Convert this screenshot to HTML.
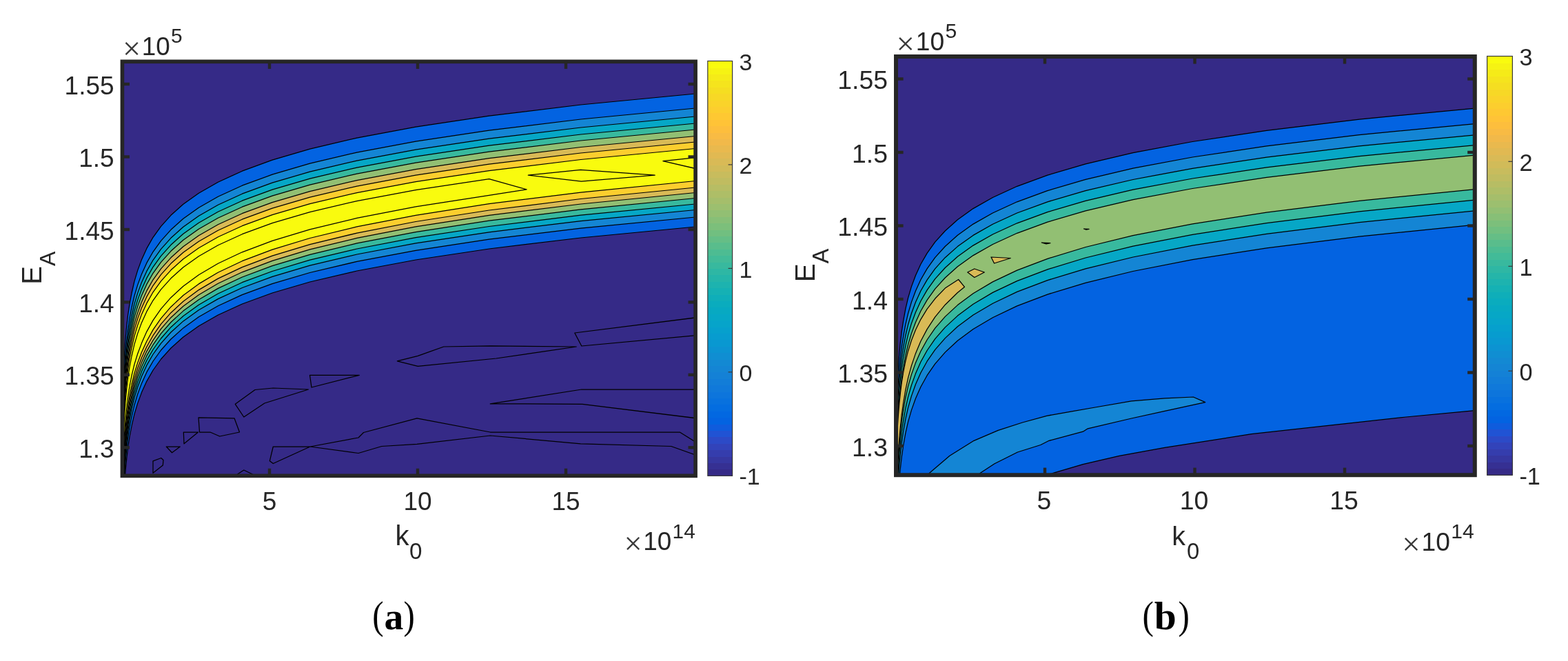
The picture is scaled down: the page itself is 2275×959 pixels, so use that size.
<!DOCTYPE html>
<html lang="en"><head><meta charset="utf-8"><title>Contour plots</title>
<style>html,body{margin:0;padding:0;background:#fff;overflow:hidden}svg{display:block}</style></head>
<body><svg width="2275" height="959" viewBox="0 0 2275 959">
<rect width="2275" height="959" fill="#fff"/>
<clipPath id="clipA"><rect x="177.4" y="89.3" width="831.7" height="601"/></clipPath>
<rect x="177.4" y="89.3" width="831.7" height="601" fill="#352a87"/>
<g clip-path="url(#clipA)" stroke="#000" stroke-width="1.25" stroke-linejoin="round">
<polygon points="1019.1,136 1008.9,136 842.7,152 709.7,168.1 603.2,184.1 517.9,200.1 449.7,216.1 395.1,232.2 351.4,248.2 316.4,264.2 288.4,280.2 265.9,296.3 248,312.3 233.6,328.3 222.1,344.3 212.9,360.4 205.6,376.4 199.7,392.4 194.9,408.4 191.2,424.5 188.1,440.5 185.7,456.5 183.8,472.5 182.2,488.6 181,504.6 180,520.6 179.2,536.7 178.6,552.7 178,568.7 177.6,584.7 177.3,600.8 177,616.8 176.8,632.8 176.7,648.8 176.5,664.9 176.4,680.9 176.3,696.9 167.4,696.9 167.4,889.1 176.3,889.1 176.4,873.1 176.5,857.1 176.7,841.1 176.8,825.1 177,809.1 177.3,793.1 177.6,777.1 178,761.1 178.6,745.1 179.2,729.1 180,713.1 181,697.1 182.2,681.1 183.8,665.1 185.7,649.1 188.1,633.1 191.2,617.1 194.9,601.1 199.7,585.1 205.6,569.1 212.9,553.1 222.1,537 233.6,521 248,505 265.9,489 288.4,473 316.4,457 351.4,441 395.1,425 449.7,409 517.9,393 603.2,377 709.7,361 842.7,345 1008.9,329 1019.1,329" fill="#0363e1"/>
<polygon points="1019.1,157 1008.9,157 842.7,173 709.7,189.1 603.2,205.1 517.9,221.1 449.7,237.1 395.1,253.2 351.4,269.2 316.4,285.2 288.4,301.2 265.9,317.3 248,333.3 233.6,349.3 222.1,365.3 212.9,381.4 205.6,397.4 199.7,413.4 194.9,429.4 191.2,445.5 188.1,461.5 185.7,477.5 183.8,493.5 182.2,509.6 181,525.6 180,541.6 179.2,557.7 178.6,573.7 178,589.7 177.6,605.7 177.3,621.8 177,637.8 176.8,653.8 176.7,669.8 176.5,685.9 176.4,701.9 176.3,717.9 167.4,717.9 167.4,874.7 176.3,874.7 176.4,858.8 176.5,842.8 176.7,826.9 176.8,811 177,795 177.3,779.1 177.6,763.1 178,747.2 178.6,731.2 179.2,715.3 180,699.4 181,683.4 182.2,667.5 183.8,651.5 185.7,635.6 188.1,619.6 191.2,603.7 194.9,587.8 199.7,571.8 205.6,555.9 212.9,539.9 222.1,524 233.6,508 248,492 265.9,475.9 288.4,459.8 316.4,443.7 351.4,427.6 395.1,411.6 449.7,395.5 517.9,379.4 603.2,363.3 709.7,347.2 842.7,331.1 1008.9,315 1019.1,315" fill="#1485d4"/>
<polygon points="1019.1,169 1008.9,169 842.7,185 709.7,201.1 603.2,217.1 517.9,233.1 449.7,249.1 395.1,265.2 351.4,281.2 316.4,297.2 288.4,313.2 265.9,329.3 248,345.3 233.6,361.3 222.1,377.3 212.9,393.4 205.6,409.4 199.7,425.4 194.9,441.4 191.2,457.5 188.1,473.5 185.7,489.5 183.8,505.5 182.2,521.6 181,537.6 180,553.6 179.2,569.7 178.6,585.7 178,601.7 177.6,617.7 177.3,633.8 177,649.8 176.8,665.8 176.7,681.8 176.5,697.9 176.4,713.9 176.3,729.9 167.4,729.9 167.4,862.5 176.3,862.5 176.4,846.6 176.5,830.8 176.7,814.9 176.8,799.1 177,783.3 177.3,767.4 177.6,751.6 178,735.8 178.6,719.9 179.2,704.1 180,688.2 181,672.4 182.2,656.6 183.8,640.7 185.7,624.9 188.1,609.1 191.2,593.2 194.9,577.4 199.7,561.5 205.6,545.7 212.9,529.9 222.1,514 233.6,498.1 248,482 265.9,465.9 288.4,449.7 316.4,433.6 351.4,417.5 395.1,401.3 449.7,385.2 517.9,369 603.2,352.9 709.7,336.8 842.7,320.6 1008.9,304.5 1019.1,304.5" fill="#06a7c6"/>
<polygon points="1019.1,179 1008.9,179 842.7,195 709.7,211.1 603.2,227.1 517.9,243.1 449.7,259.1 395.1,275.2 351.4,291.2 316.4,307.2 288.4,323.2 265.9,339.3 248,355.3 233.6,371.3 222.1,387.3 212.9,403.4 205.6,419.4 199.7,435.4 194.9,451.4 191.2,467.5 188.1,483.5 185.7,499.5 183.8,515.5 182.2,531.6 181,547.6 180,563.6 179.2,579.7 178.6,595.7 178,611.7 177.6,627.7 177.3,643.8 177,659.8 176.8,675.8 176.7,691.8 176.5,707.9 176.4,723.9 176.3,739.9 167.4,739.9 167.4,854.6 176.3,854.6 176.4,838.8 176.5,823 176.7,807.2 176.8,791.4 177,775.6 177.3,759.8 177.6,744 178,728.2 178.6,712.4 179.2,696.6 180,680.8 181,665 182.2,649.2 183.8,633.4 185.7,617.6 188.1,601.8 191.2,586 194.9,570.2 199.7,554.4 205.6,538.6 212.9,522.8 222.1,507 233.6,491 248,474.7 265.9,458.5 288.4,442.2 316.4,426 351.4,409.7 395.1,393.5 449.7,377.2 517.9,361 603.2,344.7 709.7,328.5 842.7,312.2 1008.9,296 1019.1,296" fill="#38b99e"/>
<polygon points="1019.1,188 1008.9,188 842.7,204 709.7,220.1 603.2,236.1 517.9,252.1 449.7,268.1 395.1,284.2 351.4,300.2 316.4,316.2 288.4,332.2 265.9,348.3 248,364.3 233.6,380.3 222.1,396.3 212.9,412.4 205.6,428.4 199.7,444.4 194.9,460.4 191.2,476.5 188.1,492.5 185.7,508.5 183.8,524.5 182.2,540.6 181,556.6 180,572.6 179.2,588.7 178.6,604.7 178,620.7 177.6,636.7 177.3,652.8 177,668.8 176.8,684.8 176.7,700.8 176.5,716.9 176.4,732.9 176.3,748.9 167.4,748.9 167.4,846.9 176.3,846.9 176.4,831.2 176.5,815.4 176.7,799.7 176.8,783.9 177,768.1 177.3,752.4 177.6,736.6 178,720.8 178.6,705.1 179.2,689.3 180,673.6 181,657.8 182.2,642 183.8,626.3 185.7,610.5 188.1,594.7 191.2,579 194.9,563.2 199.7,547.5 205.6,531.7 212.9,515.9 222.1,500.2 233.6,483.8 248,467.5 265.9,451.1 288.4,434.7 316.4,418.4 351.4,402 395.1,385.7 449.7,369.3 517.9,352.9 603.2,336.6 709.7,320.2 842.7,303.9 1008.9,287.5 1019.1,287.5" fill="#92bf73"/>
<polygon points="1019.1,197.5 1008.9,197.5 842.7,213.5 709.7,229.6 603.2,245.6 517.9,261.6 449.7,277.6 395.1,293.7 351.4,309.7 316.4,325.7 288.4,341.7 265.9,357.8 248,373.8 233.6,389.8 222.1,405.8 212.9,421.9 205.6,437.9 199.7,453.9 194.9,469.9 191.2,486 188.1,502 185.7,518 183.8,534 182.2,550.1 181,566.1 180,582.1 179.2,598.2 178.6,614.2 178,630.2 177.6,646.2 177.3,662.3 177,678.3 176.8,694.3 176.7,710.3 176.5,726.4 176.4,742.4 176.3,758.4 167.4,758.4 167.4,839.8 176.3,839.8 176.4,824.1 176.5,808.4 176.7,792.7 176.8,776.9 177,761.2 177.3,745.5 177.6,729.8 178,714 178.6,698.3 179.2,682.6 180,666.9 181,651.2 182.2,635.4 183.8,619.7 185.7,604 188.1,588.3 191.2,572.5 194.9,556.8 199.7,541.1 205.6,525.4 212.9,509.6 222.1,493.6 233.6,477.2 248,460.7 265.9,444.2 288.4,427.7 316.4,411.3 351.4,394.8 395.1,378.3 449.7,361.9 517.9,345.4 603.2,328.9 709.7,312.4 842.7,296 1008.9,279.5 1019.1,279.5" fill="#d9ba56"/>
<polygon points="1019.1,206 1008.9,206 842.7,222 709.7,238.1 603.2,254.1 517.9,270.1 449.7,286.1 395.1,302.2 351.4,318.2 316.4,334.2 288.4,350.2 265.9,366.3 248,382.3 233.6,398.3 222.1,414.3 212.9,430.4 205.6,446.4 199.7,462.4 194.9,478.4 191.2,494.5 188.1,510.5 185.7,526.5 183.8,542.5 182.2,558.6 181,574.6 180,590.6 179.2,606.7 178.6,622.7 178,638.7 177.6,654.7 177.3,670.8 177,686.8 176.8,702.8 176.7,718.8 176.5,734.9 176.4,750.9 176.3,766.9 167.4,766.9 167.4,831 176.3,831 176.4,815.4 176.5,799.8 176.7,784.2 176.8,768.6 177,752.9 177.3,737.3 177.6,721.7 178,706.1 178.6,690.5 179.2,674.9 180,659.2 181,643.6 182.2,628 183.8,612.4 185.7,596.8 188.1,581.1 191.2,565.5 194.9,549.9 199.7,534.3 205.6,518.7 212.9,503 222.1,486.7 233.6,470.2 248,453.7 265.9,437.2 288.4,420.6 316.4,404.1 351.4,387.6 395.1,371.1 449.7,354.6 517.9,338.1 603.2,321.5 709.7,305 842.7,288.5 1008.9,272 1019.1,272" fill="#fcce2e"/>
<polygon points="1019.1,215.5 1008.9,215.5 842.7,231.5 709.7,247.6 603.2,263.6 517.9,279.6 449.7,295.6 395.1,311.7 351.4,327.7 316.4,343.7 288.4,359.7 265.9,375.8 248,391.8 233.6,407.8 222.1,423.8 212.9,439.9 205.6,455.9 199.7,471.9 194.9,487.9 191.2,504 188.1,520 185.7,536 183.8,552 182.2,568.1 181,584.1 180,600.1 179.2,616.2 178.6,632.2 178,648.2 177.6,664.2 177.3,680.3 177,696.3 176.8,712.3 176.7,728.3 176.5,744.4 176.4,760.4 176.3,776.4 167.4,776.4 167.4,822 176.3,822 176.4,806.5 176.5,790.9 176.7,775.3 176.8,759.8 177,744.2 177.3,728.7 177.6,713.1 178,697.5 178.6,682 179.2,666.4 180,650.9 181,635.3 182.2,619.8 183.8,604.2 185.7,588.6 188.1,573.1 191.2,557.5 194.9,542 199.7,526.4 205.6,510.8 212.9,495 222.1,478.4 233.6,461.8 248,445.2 265.9,428.5 288.4,411.9 316.4,395.3 351.4,378.7 395.1,362.1 449.7,345.5 517.9,328.9 603.2,312.3 709.7,295.7 842.7,279.1 1008.9,262.5 1019.1,262.5" fill="#f9fb0e"/>
<polyline points="176.3,788.4 176.4,772.4 176.5,756.4 176.7,740.3 176.8,724.3 177,708.3 177.3,692.3 177.6,676.2 178,660.2 178.6,644.2 179.2,628.2 180,612.1 181,596.1 182.2,580.1 183.8,564 185.7,548 188.1,532 191.2,516 194.9,499.9 199.7,483.9 205.6,467.9 212.9,451.9 222.1,435.8 233.6,419.8 248,403.8 265.9,387.8 288.4,371.7 316.4,355.7 351.4,339.7 395.1,323.7 449.7,307.6 517.9,291.6 603.2,275.6 709.7,259.6 764.1,274.9 709.7,283.4 603.2,299.9 517.9,316.4 449.7,332.9 395.1,349.3 351.4,365.8 316.4,382.3 288.4,398.7 265.9,415.2 248,431.7 233.6,448.2 222.1,464.6 212.9,481.1 205.6,497.6 199.7,513.3 194.9,528.9 191.2,544.4 188.1,560 185.7,575.6 183.8,591.2 182.2,606.8 181,622.3 180,637.9 179.2,653.5 178.6,669.1 178,684.7 177.6,700.2 177.3,715.8 177,731.4 176.8,747 176.7,762.6 176.5,778.2 176.4,793.7 176.3,809.3" fill="none"/>
<polygon points="766.3,254.2 842.4,246.4 950.2,254.2 843.4,263.2" fill="none"/>
<polyline points="1012,228.3 961.9,233.7 1012,245.2" fill="none"/>
<polygon points="222,668.8 233.8,664.5 237,667.5 236.3,675 222,686.3" fill="none"/>
<polygon points="241.3,648 261.3,648 249.5,656.8" fill="none"/>
<polygon points="266.3,627 287.5,627 267,643.8" fill="none"/>
<polygon points="288,605.8 340,606.8 347.5,627 318.8,633 305,627 289.5,627" fill="none"/>
<polygon points="341.3,586.3 370,565.5 396.3,563 447.5,565 383.8,585 353.8,605" fill="none"/>
<polygon points="449.5,544.3 521.3,544.3 452,562" fill="none"/>
<polygon points="576.3,523.8 606.3,516.3 643.8,503 711.3,501.8 836.3,503 720,520 606.3,531.3" fill="none"/>
<polyline points="1012,460.5 833.8,483 843.8,502 1012,486.5" fill="none"/>
<polyline points="1012,565 843.8,565 711.3,585.8 845,586.3 1012,607" fill="none"/>
<polyline points="1012,643 986.3,627 711.3,627 605,606.8 527.5,627.5 520,635 450,648 396.3,672.5 391.3,668.8 396.3,648 450,648 520,657.5 553.8,647.5 605,644.3 711.3,632 842.5,643.8 973.8,647.5 1012,661" fill="none"/>
<polyline points="340,691 353.8,682 372.5,691" fill="none"/>
</g>
<rect x="177.4" y="89.3" width="831.7" height="601" fill="none" stroke="#262626" stroke-width="5.6"/>
<g stroke="#262626" stroke-width="4.4"><line x1="391" y1="690.3" x2="391" y2="679.7"/><line x1="391" y1="89.3" x2="391" y2="99.9"/><line x1="606" y1="690.3" x2="606" y2="679.7"/><line x1="606" y1="89.3" x2="606" y2="99.9"/><line x1="821" y1="690.3" x2="821" y2="679.7"/><line x1="821" y1="89.3" x2="821" y2="99.9"/><line x1="177.4" y1="649.3" x2="188" y2="649.3"/><line x1="1009.1" y1="649.3" x2="998.5" y2="649.3"/><line x1="177.4" y1="543.8" x2="188" y2="543.8"/><line x1="1009.1" y1="543.8" x2="998.5" y2="543.8"/><line x1="177.4" y1="438.4" x2="188" y2="438.4"/><line x1="1009.1" y1="438.4" x2="998.5" y2="438.4"/><line x1="177.4" y1="333" x2="188" y2="333"/><line x1="1009.1" y1="333" x2="998.5" y2="333"/><line x1="177.4" y1="227.5" x2="188" y2="227.5"/><line x1="1009.1" y1="227.5" x2="998.5" y2="227.5"/><line x1="177.4" y1="122" x2="188" y2="122"/><line x1="1009.1" y1="122" x2="998.5" y2="122"/></g>
<g font-family='"Liberation Sans", sans-serif' font-size="37" fill="#262626">
<text x="391" y="739.7" text-anchor="middle">5</text>
<text x="606" y="739.7" text-anchor="middle">10</text>
<text x="821" y="739.7" text-anchor="middle">15</text>
<text x="165.6" y="663.8" text-anchor="end">1.3</text>
<text x="165.6" y="558.3" text-anchor="end">1.35</text>
<text x="165.6" y="452.9" text-anchor="end">1.4</text>
<text x="165.6" y="347.5" text-anchor="end">1.45</text>
<text x="165.6" y="242" text-anchor="end">1.5</text>
<text x="165.6" y="136.5" text-anchor="end">1.55</text>
</g>
<g shape-rendering="crispEdges"><rect x="1026.8" y="680.90" width="35.8" height="10.00" fill="#352a87"/><rect x="1026.8" y="671.49" width="35.8" height="10.00" fill="#363093"/><rect x="1026.8" y="662.09" width="35.8" height="10.00" fill="#3637a0"/><rect x="1026.8" y="652.69" width="35.8" height="10.00" fill="#353dad"/><rect x="1026.8" y="643.28" width="35.8" height="10.00" fill="#3243ba"/><rect x="1026.8" y="633.88" width="35.8" height="10.00" fill="#2c4ac7"/><rect x="1026.8" y="624.48" width="35.8" height="10.00" fill="#2053d4"/><rect x="1026.8" y="615.07" width="35.8" height="10.00" fill="#0f5cdd"/><rect x="1026.8" y="605.67" width="35.8" height="10.00" fill="#0363e1"/><rect x="1026.8" y="596.27" width="35.8" height="10.00" fill="#0268e1"/><rect x="1026.8" y="586.87" width="35.8" height="10.00" fill="#046de0"/><rect x="1026.8" y="577.46" width="35.8" height="10.00" fill="#0871de"/><rect x="1026.8" y="568.06" width="35.8" height="10.00" fill="#0d75dc"/><rect x="1026.8" y="558.66" width="35.8" height="10.00" fill="#1079da"/><rect x="1026.8" y="549.25" width="35.8" height="10.00" fill="#127dd8"/><rect x="1026.8" y="539.85" width="35.8" height="10.00" fill="#1481d6"/><rect x="1026.8" y="530.45" width="35.8" height="10.00" fill="#1485d4"/><rect x="1026.8" y="521.04" width="35.8" height="10.00" fill="#1389d3"/><rect x="1026.8" y="511.64" width="35.8" height="10.00" fill="#108ed2"/><rect x="1026.8" y="502.24" width="35.8" height="10.00" fill="#0c93d2"/><rect x="1026.8" y="492.83" width="35.8" height="10.00" fill="#0998d1"/><rect x="1026.8" y="483.43" width="35.8" height="10.00" fill="#079ccf"/><rect x="1026.8" y="474.03" width="35.8" height="10.00" fill="#06a0cd"/><rect x="1026.8" y="464.62" width="35.8" height="10.00" fill="#06a4ca"/><rect x="1026.8" y="455.22" width="35.8" height="10.00" fill="#06a7c6"/><rect x="1026.8" y="445.82" width="35.8" height="10.00" fill="#07a9c2"/><rect x="1026.8" y="436.42" width="35.8" height="10.00" fill="#0aacbe"/><rect x="1026.8" y="427.01" width="35.8" height="10.00" fill="#0faeb9"/><rect x="1026.8" y="417.61" width="35.8" height="10.00" fill="#15b1b4"/><rect x="1026.8" y="408.21" width="35.8" height="10.00" fill="#1db3af"/><rect x="1026.8" y="398.80" width="35.8" height="10.00" fill="#25b5a9"/><rect x="1026.8" y="389.40" width="35.8" height="10.00" fill="#2eb7a4"/><rect x="1026.8" y="380.00" width="35.8" height="10.00" fill="#38b99e"/><rect x="1026.8" y="370.59" width="35.8" height="10.00" fill="#42bb98"/><rect x="1026.8" y="361.19" width="35.8" height="10.00" fill="#4dbc92"/><rect x="1026.8" y="351.79" width="35.8" height="10.00" fill="#59bd8c"/><rect x="1026.8" y="342.38" width="35.8" height="10.00" fill="#65be86"/><rect x="1026.8" y="332.98" width="35.8" height="10.00" fill="#71bf80"/><rect x="1026.8" y="323.58" width="35.8" height="10.00" fill="#7cbf7b"/><rect x="1026.8" y="314.17" width="35.8" height="10.00" fill="#87bf77"/><rect x="1026.8" y="304.77" width="35.8" height="10.00" fill="#92bf73"/><rect x="1026.8" y="295.37" width="35.8" height="10.00" fill="#9cbf6f"/><rect x="1026.8" y="285.97" width="35.8" height="10.00" fill="#a5be6b"/><rect x="1026.8" y="276.56" width="35.8" height="10.00" fill="#aebe67"/><rect x="1026.8" y="267.16" width="35.8" height="10.00" fill="#b7bd64"/><rect x="1026.8" y="257.76" width="35.8" height="10.00" fill="#c0bc60"/><rect x="1026.8" y="248.35" width="35.8" height="10.00" fill="#c8bc5d"/><rect x="1026.8" y="238.95" width="35.8" height="10.00" fill="#d1bb59"/><rect x="1026.8" y="229.55" width="35.8" height="10.00" fill="#d9ba56"/><rect x="1026.8" y="220.14" width="35.8" height="10.00" fill="#e1b952"/><rect x="1026.8" y="210.74" width="35.8" height="10.00" fill="#e9b94e"/><rect x="1026.8" y="201.34" width="35.8" height="10.00" fill="#f1b94a"/><rect x="1026.8" y="191.93" width="35.8" height="10.00" fill="#f8bb44"/><rect x="1026.8" y="182.53" width="35.8" height="10.00" fill="#fdbe3d"/><rect x="1026.8" y="173.13" width="35.8" height="10.00" fill="#ffc337"/><rect x="1026.8" y="163.73" width="35.8" height="10.00" fill="#fec832"/><rect x="1026.8" y="154.32" width="35.8" height="10.00" fill="#fcce2e"/><rect x="1026.8" y="144.92" width="35.8" height="10.00" fill="#fad32a"/><rect x="1026.8" y="135.52" width="35.8" height="10.00" fill="#f7d826"/><rect x="1026.8" y="126.11" width="35.8" height="10.00" fill="#f5de21"/><rect x="1026.8" y="116.71" width="35.8" height="10.00" fill="#f5e41d"/><rect x="1026.8" y="107.31" width="35.8" height="10.00" fill="#f5eb18"/><rect x="1026.8" y="97.90" width="35.8" height="10.00" fill="#f6f313"/><rect x="1026.8" y="88.50" width="35.8" height="10.00" fill="#f9fb0e"/></g>
<rect x="1026.8" y="88.5" width="35.8" height="601.8" fill="none" stroke="#3a3a3a" stroke-width="1.2"/>
<g font-family='"Liberation Sans", sans-serif' font-size="34" fill="#262626">
<text x="1072.4" y="703.4">-1</text>
<line x1="1056.6" y1="539.8" x2="1062.6" y2="539.8" stroke="#3a3a3a" stroke-width="1.2"/>
<text x="1072.4" y="552.9">0</text>
<line x1="1056.6" y1="389.4" x2="1062.6" y2="389.4" stroke="#3a3a3a" stroke-width="1.2"/>
<text x="1072.4" y="402.5">1</text>
<line x1="1056.6" y1="238.9" x2="1062.6" y2="238.9" stroke="#3a3a3a" stroke-width="1.2"/>
<text x="1072.4" y="252">2</text>
<text x="1072.4" y="101.6">3</text>
</g>
<text font-family='"Liberation Serif", serif' font-size="46.4" fill="#3a3a3a" x="177.9" y="86.2">×</text>
<text font-family='"Liberation Sans", sans-serif' font-size="36.8" fill="#262626" x="205.7" y="80.2">10</text>
<text font-family='"Liberation Sans", sans-serif' font-size="29.8" fill="#262626" x="248" y="62.3">5</text>
<text font-family='"Liberation Serif", serif' font-size="46.4" fill="#3a3a3a" x="905.5" y="804.4">×</text>
<text font-family='"Liberation Sans", sans-serif' font-size="36.8" fill="#262626" x="933.3" y="798.4">10</text>
<text font-family='"Liberation Sans", sans-serif' font-size="29.8" fill="#262626" x="975.6" y="780.5">14</text>
<text font-family='"Liberation Sans", sans-serif' font-size="40" fill="#262626" x="573.6" y="791.2">k</text>
<text font-family='"Liberation Sans", sans-serif' font-size="33.2" fill="#262626" x="594" y="811.4">0</text>
<text font-family='"Liberation Sans", sans-serif' font-size="40" fill="#262626" transform="translate(60 412.8) rotate(-90)">E</text>
<text font-family='"Liberation Sans", sans-serif' font-size="32" fill="#262626" transform="translate(80 386.1) rotate(-90)">A</text>
<text transform="translate(540.2 912.4) scale(0.86 1)" font-family='"Liberation Serif", serif' font-size="57" fill="#000">(</text>
<text transform="translate(585.4 912.4) scale(0.86 1)" font-family='"Liberation Serif", serif' font-size="57" fill="#000">)</text>
<text font-family='"Liberation Serif", serif' font-size="55.5" fill="#000" font-weight="bold" x="557.6" y="913">a</text>
<clipPath id="clipB"><rect x="1300" y="82" width="839.8" height="607.2"/></clipPath>
<rect x="1300" y="82" width="839.8" height="607.2" fill="#352a87"/>
<g clip-path="url(#clipB)" stroke="#000" stroke-width="1.25" stroke-linejoin="round">
<polygon points="2149.8,157 2140.2,157 1972.3,173.2 1837.8,189.4 1730.2,205.5 1644,221.7 1575.1,237.9 1519.9,254.1 1475.7,270.3 1440.4,286.5 1412,302.6 1389.4,318.8 1371.3,335 1356.7,351.2 1345.1,367.4 1335.8,383.5 1328.4,399.7 1322.4,415.9 1317.6,432.1 1313.8,448.3 1310.8,464.5 1308.3,480.6 1306.4,496.8 1304.8,513 1303.5,529.2 1302.5,545.4 1301.7,561.5 1301.1,577.7 1300.6,593.9 1300.2,610.1 1299.8,626.3 1299.6,642.5 1299.3,658.6 1299.2,674.8 1299,691 1298.9,707.2 1298.8,723.4 1290,723.4 1290,700 1290,700 1511,692 1528,686.3 1571.3,673.6 1624.1,661.3 1690,649.4 1815.8,629.7 2040,605 2137,595.8 2150,594.5 2149.8,594.5" fill="#0363e1"/>
<polygon points="2149.8,179.5 2140.2,179.5 1972.3,195.7 1837.8,211.9 1730.2,228 1644,244.2 1575.1,260.4 1519.9,276.6 1475.7,292.8 1440.4,309 1412,325.1 1389.4,341.3 1371.3,357.5 1356.7,373.7 1345.1,389.9 1335.8,406 1328.4,422.2 1322.4,438.4 1317.6,454.6 1313.8,470.8 1310.8,487 1308.3,503.1 1306.4,519.3 1304.8,535.5 1303.5,551.7 1302.5,567.9 1301.7,584 1301.1,600.2 1300.6,616.4 1300.2,632.6 1299.8,648.8 1299.6,665 1299.3,681.1 1299.2,697.3 1299,713.5 1298.9,729.7 1298.8,745.9 1290,745.9 1290,914.4 1298.8,914.4 1298.9,897.6 1299,880.8 1299.2,864 1299.3,847.2 1299.6,830.4 1299.8,813.6 1300.2,796.8 1300.6,780 1301.1,763.2 1301.7,746.4 1302.5,729.6 1303.5,712.8 1304.8,696 1306.4,679.2 1308.3,662.4 1310.8,645.5 1313.8,628.7 1317.6,611.9 1322.4,595.1 1328.4,578.3 1335.8,561.5 1345.1,544.7 1356.7,527.9 1371.3,511.1 1389.4,494.3 1412,477.5 1440.4,460.7 1475.7,443.9 1519.9,427.1 1575.1,410.3 1644,393.5 1730.2,376.7 1837.8,359.9 1972.3,343.1 2140.2,326.2 2149.8,326.2" fill="#1485d4"/>
<polygon points="2149.8,195.8 2140.2,195.8 1972.3,211.9 1837.8,228.1 1730.2,244.3 1644,260.5 1575.1,276.7 1519.9,292.8 1475.7,309 1440.4,325.2 1412,341.4 1389.4,357.6 1371.3,373.7 1356.7,389.9 1345.1,406.1 1335.8,422.3 1328.4,438.5 1322.4,454.7 1317.6,470.8 1313.8,487 1310.8,503.2 1308.3,519.4 1306.4,535.6 1304.8,551.7 1303.5,567.9 1302.5,584.1 1301.7,600.3 1301.1,616.5 1300.6,632.7 1300.2,648.8 1299.8,665 1299.6,681.2 1299.3,697.4 1299.2,713.6 1299,729.7 1298.9,745.9 1298.8,762.1 1290,762.1 1290,893.9 1298.8,893.9 1298.9,877.1 1299,860.3 1299.2,843.5 1299.3,826.7 1299.6,809.9 1299.8,793.1 1300.2,776.3 1300.6,759.5 1301.1,742.7 1301.7,725.9 1302.5,709.1 1303.5,692.3 1304.8,675.5 1306.4,658.7 1308.3,641.9 1310.8,625 1313.8,608.2 1317.6,591.4 1322.4,574.6 1328.4,557.8 1335.8,541 1345.1,524.2 1356.7,507.4 1371.3,490.6 1389.4,473.8 1412,457 1440.4,440.2 1475.7,423.4 1519.9,406.6 1575.1,389.8 1644,373 1730.2,356.2 1837.8,339.4 1972.3,322.6 2140.2,305.8 2149.8,305.8" fill="#06a7c6"/>
<polygon points="2149.8,210.5 2140.2,210.5 1972.3,226.7 1837.8,242.9 1730.2,259 1644,275.2 1575.1,291.4 1519.9,307.6 1475.7,323.8 1440.4,340 1412,356.1 1389.4,372.3 1371.3,388.5 1356.7,404.7 1345.1,420.9 1335.8,437 1328.4,453.2 1322.4,469.4 1317.6,485.6 1313.8,501.8 1310.8,518 1308.3,534.1 1306.4,550.3 1304.8,566.5 1303.5,582.7 1302.5,598.9 1301.7,615 1301.1,631.2 1300.6,647.4 1300.2,663.6 1299.8,679.8 1299.6,696 1299.3,712.1 1299.2,728.3 1299,744.5 1298.9,760.7 1298.8,776.9 1290,776.9 1290,878.2 1298.8,878.2 1298.9,861.4 1299,844.6 1299.2,827.8 1299.3,811 1299.6,794.2 1299.8,777.3 1300.2,760.5 1300.6,743.7 1301.1,726.9 1301.7,710.1 1302.5,693.3 1303.5,676.5 1304.8,659.7 1306.4,642.9 1308.3,626.1 1310.8,609.3 1313.8,592.5 1317.6,575.7 1322.4,558.9 1328.4,542.1 1335.8,525.3 1345.1,508.5 1356.7,491.7 1371.3,474.9 1389.4,458.1 1412,441.2 1440.4,424.4 1475.7,407.6 1519.9,390.8 1575.1,374 1644,357.2 1730.2,340.4 1837.8,323.6 1972.3,306.8 2140.2,290 2149.8,290" fill="#38b99e"/>
<polygon points="2149.8,225 2140.2,225 1972.3,241.2 1837.8,257.4 1730.2,273.5 1644,289.7 1575.1,305.9 1519.9,322.1 1475.7,338.3 1440.4,354.5 1412,370.6 1389.4,386.8 1371.3,403 1356.7,419.2 1345.1,435.4 1335.8,451.5 1328.4,467.7 1322.4,483.9 1317.6,500.1 1313.8,516.3 1310.8,532.5 1308.3,548.6 1306.4,564.8 1304.8,581 1303.5,597.2 1302.5,613.4 1301.7,629.5 1301.1,645.7 1300.6,661.9 1300.2,678.1 1299.8,694.3 1299.6,710.5 1299.3,726.6 1299.2,742.8 1299,759 1298.9,775.2 1298.8,791.4 1290,791.4 1290,862.7 1298.8,862.7 1298.9,845.9 1299,829.1 1299.2,812.3 1299.3,795.5 1299.6,778.7 1299.8,761.8 1300.2,745 1300.6,728.2 1301.1,711.4 1301.7,694.6 1302.5,677.8 1303.5,661 1304.8,644.2 1306.4,627.4 1308.3,610.6 1310.8,593.8 1313.8,577 1317.6,560.2 1322.4,543.4 1328.4,526.6 1335.8,509.8 1345.1,493 1356.7,476.2 1371.3,459.4 1389.4,442.6 1412,425.7 1440.4,408.9 1475.7,392.1 1519.9,375.3 1575.1,358.5 1644,341.7 1730.2,324.9 1837.8,308.1 1972.3,291.3 2140.2,274.5 2149.8,274.5" fill="#92bf73"/>
<polygon points="1335,700 1348.9,686 1377.9,661.3 1413.1,639.3 1448.2,624.4 1483.4,613 1518.6,603.3 1553.7,597.1 1588.9,591 1641.6,581.8 1690,577.8 1731.4,576 1748.7,583.6 1690,596.3 1641.6,607 1578.3,621.8 1571.3,626.2 1522.1,639.3 1509.8,645.5 1476.4,656 1443,672.7 1422.7,686 1405,700" fill="#1485d4"/>
<polygon points="1290,720 1298.8,782.4 1298.9,767.2 1299,752 1299.2,736.9 1299.3,721.7 1299.6,706.5 1299.8,691.3 1300.2,676.1 1300.6,661 1301.1,645.8 1301.7,630.6 1302.5,615.4 1303.5,600.2 1304.8,585.1 1306.4,569.9 1308.3,554.7 1310.8,539.5 1313.8,524.3 1317.6,509.2 1322.4,494 1328.4,478.8 1335.8,463.6 1345.1,448.4 1356.7,433.3 1371.3,418.1 1390.6,405.5 1399.5,416.3 1389.4,424.5 1371.3,442.2 1356.7,459.9 1345.1,477.6 1335.8,495.2 1328.4,512.9 1322.4,530.6 1317.6,548.2 1313.8,565.9 1310.8,583.6 1308.3,601.3 1306.4,618.9 1304.8,636.6 1303.5,654.3 1302.5,672 1301.7,689.6 1301.1,707.3 1300.6,725 1300.2,742.6 1299.8,760.3 1299.6,778 1299.3,795.7 1299.2,813.3 1299,831 1298.9,848.7 1298.8,866.4 1290,740" fill="#d9ba56"/>
<polygon points="1403.8,395 1413.8,390 1428.3,395 1413.8,402.5" fill="#d9ba56"/>
<polygon points="1438,373 1466.3,374.5 1442.5,382" fill="#d9ba56"/>
<polygon points="1511.3,352 1523.8,352.6 1518,353.8" fill="#d9ba56"/>
<polygon points="1572.5,332 1580,332.4 1576,333.2" fill="#d9ba56"/>
</g>
<rect x="1300" y="82" width="839.8" height="607.2" fill="none" stroke="#262626" stroke-width="6"/>
<g stroke="#262626" stroke-width="4.4"><line x1="1516" y1="689.2" x2="1516" y2="678.6"/><line x1="1516" y1="82" x2="1516" y2="92.6"/><line x1="1733.5" y1="689.2" x2="1733.5" y2="678.6"/><line x1="1733.5" y1="82" x2="1733.5" y2="92.6"/><line x1="1951" y1="689.2" x2="1951" y2="678.6"/><line x1="1951" y1="82" x2="1951" y2="92.6"/><line x1="1300" y1="647" x2="1310.6" y2="647"/><line x1="2139.8" y1="647" x2="2129.2" y2="647"/><line x1="1300" y1="540.5" x2="1310.6" y2="540.5"/><line x1="2139.8" y1="540.5" x2="2129.2" y2="540.5"/><line x1="1300" y1="434" x2="1310.6" y2="434"/><line x1="2139.8" y1="434" x2="2129.2" y2="434"/><line x1="1300" y1="327.5" x2="1310.6" y2="327.5"/><line x1="2139.8" y1="327.5" x2="2129.2" y2="327.5"/><line x1="1300" y1="221" x2="1310.6" y2="221"/><line x1="2139.8" y1="221" x2="2129.2" y2="221"/><line x1="1300" y1="114.5" x2="1310.6" y2="114.5"/><line x1="2139.8" y1="114.5" x2="2129.2" y2="114.5"/></g>
<g font-family='"Liberation Sans", sans-serif' font-size="37.4" fill="#262626">
<text x="1515" y="739" text-anchor="middle">5</text>
<text x="1732.5" y="739" text-anchor="middle">10</text>
<text x="1950" y="739" text-anchor="middle">15</text>
<text x="1288" y="661.8" text-anchor="end">1.3</text>
<text x="1288" y="555.3" text-anchor="end">1.35</text>
<text x="1288" y="448.8" text-anchor="end">1.4</text>
<text x="1288" y="342.3" text-anchor="end">1.45</text>
<text x="1288" y="235.8" text-anchor="end">1.5</text>
<text x="1288" y="129.3" text-anchor="end">1.55</text>
</g>
<g shape-rendering="crispEdges"><rect x="2157.6" y="679.80" width="36.8" height="10.10" fill="#352a87"/><rect x="2157.6" y="670.31" width="36.8" height="10.10" fill="#363093"/><rect x="2157.6" y="660.81" width="36.8" height="10.10" fill="#3637a0"/><rect x="2157.6" y="651.31" width="36.8" height="10.10" fill="#353dad"/><rect x="2157.6" y="641.82" width="36.8" height="10.10" fill="#3243ba"/><rect x="2157.6" y="632.32" width="36.8" height="10.10" fill="#2c4ac7"/><rect x="2157.6" y="622.82" width="36.8" height="10.10" fill="#2053d4"/><rect x="2157.6" y="613.32" width="36.8" height="10.10" fill="#0f5cdd"/><rect x="2157.6" y="603.83" width="36.8" height="10.10" fill="#0363e1"/><rect x="2157.6" y="594.33" width="36.8" height="10.10" fill="#0268e1"/><rect x="2157.6" y="584.83" width="36.8" height="10.10" fill="#046de0"/><rect x="2157.6" y="575.34" width="36.8" height="10.10" fill="#0871de"/><rect x="2157.6" y="565.84" width="36.8" height="10.10" fill="#0d75dc"/><rect x="2157.6" y="556.34" width="36.8" height="10.10" fill="#1079da"/><rect x="2157.6" y="546.85" width="36.8" height="10.10" fill="#127dd8"/><rect x="2157.6" y="537.35" width="36.8" height="10.10" fill="#1481d6"/><rect x="2157.6" y="527.85" width="36.8" height="10.10" fill="#1485d4"/><rect x="2157.6" y="518.36" width="36.8" height="10.10" fill="#1389d3"/><rect x="2157.6" y="508.86" width="36.8" height="10.10" fill="#108ed2"/><rect x="2157.6" y="499.36" width="36.8" height="10.10" fill="#0c93d2"/><rect x="2157.6" y="489.87" width="36.8" height="10.10" fill="#0998d1"/><rect x="2157.6" y="480.37" width="36.8" height="10.10" fill="#079ccf"/><rect x="2157.6" y="470.87" width="36.8" height="10.10" fill="#06a0cd"/><rect x="2157.6" y="461.38" width="36.8" height="10.10" fill="#06a4ca"/><rect x="2157.6" y="451.88" width="36.8" height="10.10" fill="#06a7c6"/><rect x="2157.6" y="442.38" width="36.8" height="10.10" fill="#07a9c2"/><rect x="2157.6" y="432.88" width="36.8" height="10.10" fill="#0aacbe"/><rect x="2157.6" y="423.39" width="36.8" height="10.10" fill="#0faeb9"/><rect x="2157.6" y="413.89" width="36.8" height="10.10" fill="#15b1b4"/><rect x="2157.6" y="404.39" width="36.8" height="10.10" fill="#1db3af"/><rect x="2157.6" y="394.90" width="36.8" height="10.10" fill="#25b5a9"/><rect x="2157.6" y="385.40" width="36.8" height="10.10" fill="#2eb7a4"/><rect x="2157.6" y="375.90" width="36.8" height="10.10" fill="#38b99e"/><rect x="2157.6" y="366.41" width="36.8" height="10.10" fill="#42bb98"/><rect x="2157.6" y="356.91" width="36.8" height="10.10" fill="#4dbc92"/><rect x="2157.6" y="347.41" width="36.8" height="10.10" fill="#59bd8c"/><rect x="2157.6" y="337.92" width="36.8" height="10.10" fill="#65be86"/><rect x="2157.6" y="328.42" width="36.8" height="10.10" fill="#71bf80"/><rect x="2157.6" y="318.92" width="36.8" height="10.10" fill="#7cbf7b"/><rect x="2157.6" y="309.42" width="36.8" height="10.10" fill="#87bf77"/><rect x="2157.6" y="299.93" width="36.8" height="10.10" fill="#92bf73"/><rect x="2157.6" y="290.43" width="36.8" height="10.10" fill="#9cbf6f"/><rect x="2157.6" y="280.93" width="36.8" height="10.10" fill="#a5be6b"/><rect x="2157.6" y="271.44" width="36.8" height="10.10" fill="#aebe67"/><rect x="2157.6" y="261.94" width="36.8" height="10.10" fill="#b7bd64"/><rect x="2157.6" y="252.44" width="36.8" height="10.10" fill="#c0bc60"/><rect x="2157.6" y="242.95" width="36.8" height="10.10" fill="#c8bc5d"/><rect x="2157.6" y="233.45" width="36.8" height="10.10" fill="#d1bb59"/><rect x="2157.6" y="223.95" width="36.8" height="10.10" fill="#d9ba56"/><rect x="2157.6" y="214.46" width="36.8" height="10.10" fill="#e1b952"/><rect x="2157.6" y="204.96" width="36.8" height="10.10" fill="#e9b94e"/><rect x="2157.6" y="195.46" width="36.8" height="10.10" fill="#f1b94a"/><rect x="2157.6" y="185.97" width="36.8" height="10.10" fill="#f8bb44"/><rect x="2157.6" y="176.47" width="36.8" height="10.10" fill="#fdbe3d"/><rect x="2157.6" y="166.97" width="36.8" height="10.10" fill="#ffc337"/><rect x="2157.6" y="157.48" width="36.8" height="10.10" fill="#fec832"/><rect x="2157.6" y="147.98" width="36.8" height="10.10" fill="#fcce2e"/><rect x="2157.6" y="138.48" width="36.8" height="10.10" fill="#fad32a"/><rect x="2157.6" y="128.98" width="36.8" height="10.10" fill="#f7d826"/><rect x="2157.6" y="119.49" width="36.8" height="10.10" fill="#f5de21"/><rect x="2157.6" y="109.99" width="36.8" height="10.10" fill="#f5e41d"/><rect x="2157.6" y="100.49" width="36.8" height="10.10" fill="#f5eb18"/><rect x="2157.6" y="91.00" width="36.8" height="10.10" fill="#f6f313"/><rect x="2157.6" y="81.50" width="36.8" height="10.10" fill="#f9fb0e"/></g>
<rect x="2157.6" y="81.5" width="36.8" height="607.8" fill="none" stroke="#3a3a3a" stroke-width="1.2"/>
<g font-family='"Liberation Sans", sans-serif' font-size="34.3" fill="#262626">
<text x="2204.4" y="703">-1</text>
<line x1="2188.4" y1="538.2" x2="2194.4" y2="538.2" stroke="#3a3a3a" stroke-width="1.2"/>
<text x="2204.4" y="551.9">0</text>
<line x1="2188.4" y1="386.3" x2="2194.4" y2="386.3" stroke="#3a3a3a" stroke-width="1.2"/>
<text x="2204.4" y="400">1</text>
<line x1="2188.4" y1="234.3" x2="2194.4" y2="234.3" stroke="#3a3a3a" stroke-width="1.2"/>
<text x="2204.4" y="248">2</text>
<text x="2204.4" y="95.2">3</text>
</g>
<text font-family='"Liberation Serif", serif' font-size="46.9" fill="#3a3a3a" x="1300.6" y="78.9">×</text>
<text font-family='"Liberation Sans", sans-serif' font-size="37.2" fill="#262626" x="1328.8" y="72.9">10</text>
<text font-family='"Liberation Sans", sans-serif' font-size="30.1" fill="#262626" x="1371.5" y="54.8">5</text>
<text font-family='"Liberation Serif", serif' font-size="46.9" fill="#3a3a3a" x="2034.3" y="804.6">×</text>
<text font-family='"Liberation Sans", sans-serif' font-size="37.2" fill="#262626" x="2062.5" y="798.6">10</text>
<text font-family='"Liberation Sans", sans-serif' font-size="30.1" fill="#262626" x="2105.2" y="780.5">14</text>
<text font-family='"Liberation Sans", sans-serif' font-size="39.4" fill="#262626" x="1700.2" y="791">k</text>
<text font-family='"Liberation Sans", sans-serif' font-size="32.7" fill="#262626" x="1721.9" y="810.9">0</text>
<text font-family='"Liberation Sans", sans-serif' font-size="40.4" fill="#262626" transform="translate(1181.6 409.2) rotate(-90)">E</text>
<text font-family='"Liberation Sans", sans-serif' font-size="32.3" fill="#262626" transform="translate(1201.8 382.3) rotate(-90)">A</text>
<text transform="translate(1657.6 912.4) scale(0.86 1)" font-family='"Liberation Serif", serif' font-size="57" fill="#000">(</text>
<text transform="translate(1709.6 912.4) scale(0.86 1)" font-family='"Liberation Serif", serif' font-size="57" fill="#000">)</text>
<text font-family='"Liberation Serif", serif' font-size="57.5" fill="#000" font-weight="bold" x="1674.8" y="913">b</text>
</svg></body></html>
